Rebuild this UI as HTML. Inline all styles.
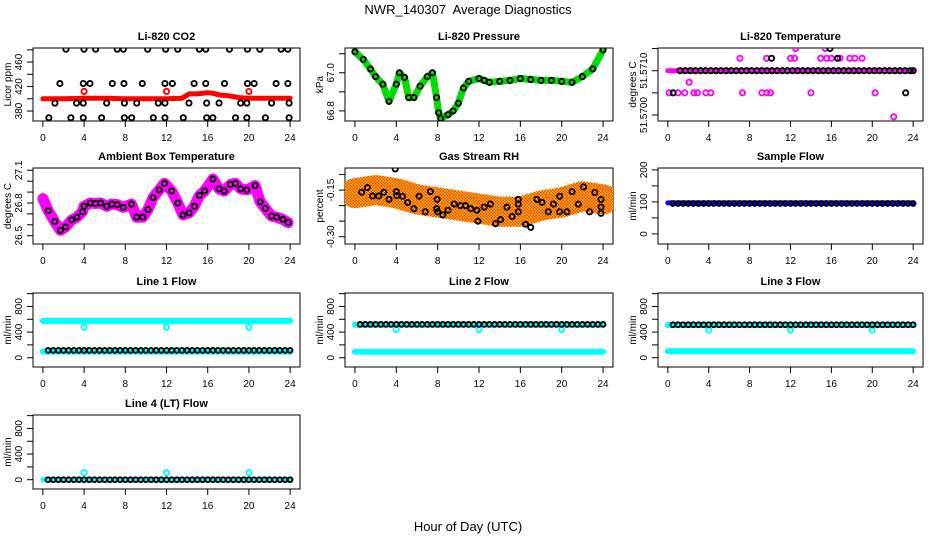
<!DOCTYPE html>
<html><head><meta charset="utf-8">
<style>
html,body{margin:0;padding:0;background:#fff;}
svg{display:block;font-family:"Liberation Sans",Arial,sans-serif;}
</style></head>
<body>
<svg id="c" width="936" height="540" viewBox="0 0 936 540" xmlns="http://www.w3.org/2000/svg">
<defs>
<pattern id="rhpat" width="3" height="3" patternUnits="userSpaceOnUse">
<rect width="3" height="3" fill="#ffd000"/>
<rect width="1.5" height="1.5" fill="#ff3000"/>
<rect x="1.5" y="1.5" width="1.5" height="1.5" fill="#ff3000"/>
</pattern>
</defs>
<text x="468" y="14" text-anchor="middle" font-size="13">NWR_140307&#160; Average Diagnostics</text>
<text x="468" y="531" text-anchor="middle" font-size="13">Hour of Day (UTC)</text>
</svg>
<script>
// ---------- data ----------
const xTicks = [0,4,8,12,16,20,24];
// CO2
const co2TraceHours = [0,2,4,6,8,10,12,13.5,14.2,15,16,16.5,17.2,18,19,20,22,24];
const co2TraceVals  = [400,400,401,401,400,400,400,401,408,408,410,409,406,405,402,401,401,401];
const co2RedHours = [4,12,20];
const co2RedVals  = [412,412,412];
const co2BlackHours = [2.24,3.99,5.12,7.22,7.81,10.17,11.92,13.09,15.19,15.81,18.11,19.86,21.06,23.13,23.78,
 1.65,3.92,4.57,6.74,7.87,9.65,11.85,12.57,14.68,15.81,17.63,19.86,20.51,22.64,23.78,
 1.17,3.27,3.92,6.19,7.91,9.11,11.2,11.85,14.18,15.9,17.1,19.2,19.8,22.2,23.9,
 0.58,2.72,3.92,5.7,7.91,8.62,10.72,11.85,13.63,15.9,16.5,18.7,19.8,21.6,23.9];
const co2BlackVals = [481,481,481,481,481,481,481,481,481,481,481,481,481,481,481,
 425,425,425,425,425,425,425,425,425,425,425,425,425,425,425,
 393,393,393,393,393,393,393,393,393,393,393,393,393,393,393,
 369,369,369,369,369,369,369,369,369,369,369,369,369,369,369];
// Pressure
const presHours = [0,0.8,1.5,2,2.7,3.3,4,4.3,4.8,5.2,5.7,6.3,7,7.5,7.9,8.1,8.3,9,9.5,10,10.5,11,12,12.5,13,14,15,16,17,18,19,20,21,22,23,24];
const presVals  = [67.11,67.07,67.02,66.98,66.94,66.85,66.94,67.0,66.975,66.87,66.87,66.93,66.98,67.0,66.87,66.79,66.76,66.78,66.80,66.84,66.92,66.955,66.97,66.96,66.95,66.955,66.96,66.97,66.965,66.96,66.96,66.955,66.95,66.98,67.02,67.12];
// Li-820 temperature
const ltMainHours = [0,24];
const ltMainVals = [51.5710,51.5710];
const ltBlackHours = [1.2,1.7,2.2,2.7,3.2,3.7,4.2,4.7,5.2,5.7,6.2,6.7,7.2,7.7,8.2,8.7,9.2,9.7,10.2,10.7,11.2,11.7,12.2,12.7,13.2,13.7,14.2,14.7,15.2,15.7,16.2,16.7,17.2,17.7,18.2,18.7,19.2,19.7,20.2,20.7,21.2,21.7,22.2,22.7,23.2,23.7,24,
 0.52,23.27,10.15,16.6,15.86];
const ltBlackVals = [51.571,51.571,51.571,51.571,51.571,51.571,51.571,51.571,51.571,51.571,51.571,51.571,51.571,51.571,51.571,51.571,51.571,51.571,51.571,51.571,51.571,51.571,51.571,51.571,51.571,51.571,51.571,51.571,51.571,51.571,51.571,51.571,51.571,51.571,51.571,51.571,51.571,51.571,51.571,51.571,51.571,51.571,51.571,51.571,51.571,51.571,51.571,
 51.5705,51.5705,51.57128,51.57128,51.5715];
const ltPinkHours = [0.13,1.0,1.66,2.55,2.9,3.72,4.21,7.3,9.2,9.7,10.05,14.0,20.27,
 7.05,9.67,12.0,12.4,14.95,15.54,16.0,16.84,17.8,18.3,19.0, 12.5,15.4, 2.09, 22.1];
const ltPinkVals = [51.5705,51.5705,51.5705,51.5705,51.5705,51.5705,51.5705,51.5705,51.5705,51.5705,51.5705,51.5705,51.5705,
 51.57128,51.57128,51.57128,51.57128,51.57128,51.57128,51.57128,51.57128,51.57128,51.57128,51.57128, 51.5715,51.5715, 51.57074, 51.56996];
// Ambient box temperature
const ambHours = [0,0.52,1.14,1.7,2.2,2.8,3.3,3.85,4.0,4.6,5.1,5.6,6.2,6.7,7.2,7.8,8.6,9.1,9.7,10.2,10.7,11.3,11.8,12.5,13.1,13.6,14.2,14.7,15.2,15.7,16.5,17.1,17.6,18.2,18.7,19.2,19.8,20.6,21.1,21.6,22.2,22.7,23.3,23.8];
const ambVals  = [26.84,26.73,26.63,26.55,26.58,26.645,26.67,26.72,26.77,26.80,26.795,26.80,26.77,26.79,26.785,26.76,26.79,26.67,26.67,26.74,26.85,26.92,26.98,26.91,26.80,26.69,26.71,26.77,26.87,26.91,27.02,26.93,26.91,26.97,26.98,26.93,26.92,26.96,26.81,26.75,26.68,26.67,26.65,26.62];
// Gas stream RH
const rhTrendHours = [0,2,4,6,8,10,12,14,16,18,20,22,24];
const rhTrendVals  = [-0.16,-0.15,-0.16,-0.18,-0.19,-0.20,-0.21,-0.22,-0.22,-0.20,-0.19,-0.17,-0.18];
const rhHours = [0.65,1.2,1.7,2.3,2.8,3.3,3.9,4.0,4.05,4.6,5.1,5.7,6.2,6.8,7.3,7.9,7.95,8.0,8.5,9.0,9.6,10.2,10.7,11.2,11.8,11.9,12.5,13.1,13.6,14.1,14.7,15.2,15.8,15.8,15.8,16.5,17.0,17.6,18.1,18.7,19.2,19.8,19.8,20.5,21.0,21.6,22.1,22.7,23.2,23.8,23.8,23.8];
const rhVals  = [-0.157,-0.142,-0.169,-0.169,-0.157,-0.18,-0.082,-0.155,-0.168,-0.17,-0.19,-0.21,-0.17,-0.22,-0.155,-0.21,-0.18,-0.22,-0.23,-0.215,-0.195,-0.20,-0.20,-0.21,-0.215,-0.25,-0.205,-0.195,-0.258,-0.245,-0.205,-0.235,-0.18,-0.195,-0.22,-0.26,-0.27,-0.18,-0.19,-0.22,-0.195,-0.17,-0.22,-0.22,-0.155,-0.195,-0.14,-0.22,-0.158,-0.18,-0.205,-0.225];
// Sample flow
const sampleBlue = [97,97];
const sampleBlack = 95;
// Line flows
const l1CyanHigh = 575, l1CyanLow = 95, l1Black = 115, l1Dip = 475;
const l2CyanHigh = 515, l2CyanLow = 92, l2Black = 520, l2Dip = 440;
const l3CyanHigh = 510, l3CyanLow = 102, l3Black = 515, l3Dip = 430;
const l4Cyan = 0, l4Black = 0, l4Spike = 110;
const dipHours = [4,12,20];

// ---------- drawing ----------
const svg = document.getElementById('c');
const NS = 'http://www.w3.org/2000/svg';
function mk(tag, attrs, parent){
  const e = document.createElementNS(NS, tag);
  for (const k in attrs) e.setAttribute(k, attrs[k]);
  (parent||svg).appendChild(e);
  return e;
}
const cols = [[33,300],[345,613],[658,923]];
const rows = [[48,121],[168,244],[293,367],[415,489]];

function panel(name, col, row, title, ylab, ylim, yticks, ylabels){
  const [l,r] = cols[col], [t,b] = rows[row];
  const g = mk('g', {});
  
  
  const p = {g, l, r, t, b,
    x: h => l + (h + 0.96) / 25.92 * (r - l),
    y: v => b - (v - ylim[0]) / (ylim[1] - ylim[0]) * (b - t)};
  const tt = mk('text', {x:(l+r)/2, y:t-8, 'text-anchor':'middle', 'font-size':11, 'font-weight':'bold'}, g);
  tt.textContent = title;
  
  
  const box = mk('rect', {x:l, y:t, width:r-l, height:b-t, fill:'none', stroke:'#000', 'stroke-width':1}, g);
  
  
  const xa = mk('g', {}, g);
  
  
  for (const h of xTicks){
    const X = p.x(h);
    mk('line', {x1:X, x2:X, y1:b, y2:b+6, stroke:'#000'}, xa);
    const tx = mk('text', {x:X, y:b+20, 'text-anchor':'middle', 'font-size':10}, xa);
    tx.textContent = h;
  }
  const ya = mk('g', {}, g);
  
  
  yticks.forEach((v,i) => {
    const Y = p.y(v);
    mk('line', {x1:l-6, x2:l, y1:Y, y2:Y, stroke:'#000'}, ya);
    if (ylabels[i]){
      const tx = mk('text', {x:0, y:0, 'text-anchor':'middle', 'font-size':10,
        transform:`translate(${l-11},${Y}) rotate(-90)`}, ya);
      tx.textContent = ylabels[i];
    }
  });
  const yl = mk('text', {x:0, y:0, 'text-anchor':'middle', 'font-size':10,
    transform:`translate(${l-22},${(t+b)/2}) rotate(-90)`}, g);
  yl.textContent = ylab;
  
  
  const clip = 'clip' + name;
  const cp = mk('clipPath', {id:clip}, g);
  mk('rect', {x:l, y:t, width:r-l, height:b-t}, cp);
  p.d = mk('g', {'clip-path':`url(#${clip})`}, g);
  return p;
}
function line(p, hs, vs, color, w, name){
  const pts = hs.map((h,i) => p.x(h).toFixed(1) + ',' + p.y(vs[i]).toFixed(1)).join(' ');
  const e = mk('polyline', {points:pts, fill:'none', stroke:color, 'stroke-width':w, 'stroke-linejoin':'round', 'stroke-linecap':'round'}, p.d);
  
  
  return e;
}
function pts(p, hs, vs, color, name, rad, sw){
  const g = mk('g', {}, p.d);
  
  
  hs.forEach((h,i) => mk('circle', {cx:p.x(h), cy:p.y(vs[i]), r:rad||2.6, fill:'none', stroke:color, 'stroke-width':sw||1.9}, g));
}
function halfHours(from, to){ const a=[]; for(let h=from; h<=to+1e-9; h+=0.5) a.push(h); return a; }
function rep(v, n){ return Array(n).fill(v); }

let p = panel('co2', 0, 0, 'Li-820 CO2', 'Licor ppm', [363.7,483], [380,400,420,440,460,480], ['380','','420','','460','']);
line(p, co2TraceHours, co2TraceVals, '#ff0000', 5, 'co2-red-trace');
pts(p, co2RedHours, co2RedVals, '#ff0000', 'co2-red-points');
pts(p, co2BlackHours, co2BlackVals, '#000', 'co2-black-points');

p = panel('pressure', 1, 0, 'Li-820 Pressure', 'kPa', [66.747,67.13], [66.8,66.9,67.0,67.1], ['66.8','','67.0','']);
line(p, presHours, presVals, '#00dd00', 7, 'pressure-green-trace');
pts(p, presHours, presVals, '#000', 'pressure-black-points');

p = panel('li820-temp', 2, 0, 'Li-820 Temperature', 'degrees C', [51.569865,51.571512], [51.57,51.5705,51.571,51.5715], ['51.5700','','51.5710','']);
line(p, ltMainHours, ltMainVals, '#ff00ff', 5, 'li820-temp-magenta-trace');
pts(p, ltPinkHours, ltPinkVals, '#ff00ff', 'li820-temp-magenta-points');
pts(p, ltBlackHours, ltBlackVals, '#000', 'li820-temp-black-points');

p = panel('ambient-temp', 0, 1, 'Ambient Box Temperature', 'degrees C', [26.424,27.121], [26.5,26.6,26.7,26.8,26.9,27.0,27.1], ['26.5','','','26.8','','','27.1']);
line(p, ambHours, ambVals, '#ff00ff', 11, 'ambient-temp-magenta-band');
pts(p, ambHours.slice(1), ambVals.slice(1), '#000', 'ambient-temp-black-points');

p = panel('gas-rh', 1, 1, 'Gas Stream RH', 'percent', [-0.3235,-0.079], [-0.30,-0.25,-0.20,-0.15,-0.10], ['-0.30','','','-0.15','']);
line(p, rhTrendHours, rhTrendVals, 'url(#rhpat)', 30, 'gas-rh-orange-cloud');
pts(p, rhHours, rhVals, '#000', 'gas-rh-black-points');

p = panel('sample-flow', 2, 1, 'Sample Flow', 'ml/min', [-31.5,206], [0,50,100,150,200], ['0','','100','','200']);
line(p, [0,24], sampleBlue, '#0000ff', 5, 'sample-flow-blue-trace');
let hh = halfHours(0.5, 24);
pts(p, hh, rep(sampleBlack, hh.length), '#000', 'sample-flow-black-points', 2.4);

const lyl = [-145,1010], lyt = [0,200,400,600,800,1000], lylab = ['0','','400','','800',''];
function flowPanel(name, col, row, title, cyHigh, cyLow, blk, dip){
  const q = panel(name, col, row, title, 'ml/min', lyl, lyt, lylab);
  line(q, [0,24], [cyHigh,cyHigh], '#00ffff', 6, name + '-cyan-high');
  line(q, [0,24], [cyLow,cyLow], '#00ffff', 6, name + '-cyan-low');
  pts(q, dipHours, rep(dip, 3), '#00ffff', name + '-cyan-dips');
  const hs = halfHours(0.5, 24);
  pts(q, hs, rep(blk, hs.length), '#000', name + '-black-points', 2.4);
}
flowPanel('line1-flow', 0, 2, 'Line 1 Flow', l1CyanHigh, l1CyanLow, l1Black, l1Dip);
flowPanel('line2-flow', 1, 2, 'Line 2 Flow', l2CyanHigh, l2CyanLow, l2Black, l2Dip);
flowPanel('line3-flow', 2, 2, 'Line 3 Flow', l3CyanHigh, l3CyanLow, l3Black, l3Dip);
p = panel('line4-flow', 0, 3, 'Line 4 (LT) Flow', 'ml/min', lyl, lyt, lylab);
line(p, [0,24], [l4Cyan,l4Cyan], '#00ffff', 5, 'line4-flow-cyan-trace');
pts(p, dipHours, rep(l4Spike, 3), '#00ffff', 'line4-flow-cyan-spikes');
hh = halfHours(0.5, 24);
pts(p, hh, rep(l4Black, hh.length), '#000', 'line4-flow-black-points', 2.4);
</script>
</body></html>
